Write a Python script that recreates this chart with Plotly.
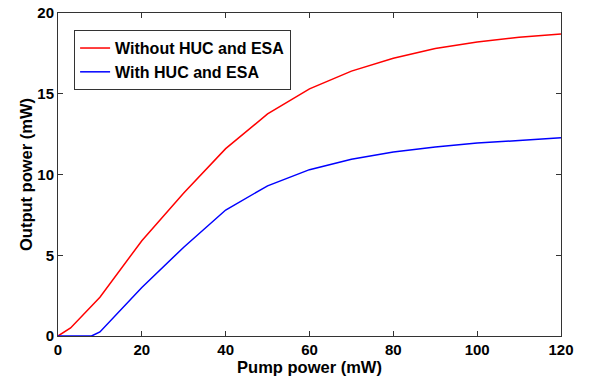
import plotly.graph_objects as go

pump_red = [0, 3, 10, 20, 30, 40, 50, 60, 70, 80, 90, 100, 110, 120]
out_red = [0, 0.5, 2.4, 5.9, 8.85, 11.6, 13.75, 15.3, 16.4, 17.2, 17.8, 18.2, 18.5, 18.7]
pump_blue = [0, 8, 10, 20, 30, 40, 50, 60, 70, 80, 90, 100, 110, 120]
out_blue = [0, 0, 0.25, 3.0, 5.5, 7.8, 9.3, 10.3, 10.95, 11.4, 11.7, 11.95, 12.1, 12.27]

x_ticks = [0, 20, 40, 60, 80, 100, 120]
y_ticks = [0, 5, 10, 15, 20]

FAM = "Liberation Sans, Arial, sans-serif"

fig = go.Figure()
fig.add_trace(go.Scatter(x=pump_red, y=out_red, mode="lines", name="Without HUC and ESA",
                         line=dict(color="#ff0000", width=1.5)))
fig.add_trace(go.Scatter(x=pump_blue, y=out_blue, mode="lines", name="With HUC and ESA",
                         line=dict(color="#0000ff", width=1.5)))

axis_common = dict(showgrid=False, zeroline=False, showline=True, linecolor="#333333", linewidth=1,
                   mirror="ticks", ticks="inside", ticklen=5, tickcolor="#333333", automargin=False,
                   tickfont=dict(family=FAM, size=15, color="black", weight="bold"))
fig.update_layout(
    width=594, height=378,
    margin=dict(l=58, r=33, t=13, b=42),
    paper_bgcolor="white", plot_bgcolor="white",
    font=dict(family=FAM, size=15, color="black"),
    xaxis=dict(range=[0, 120], tickvals=x_ticks, **axis_common,
               title=dict(text="<b>Pump power (mW)</b>", font=dict(size=16.5), standoff=1)),
    yaxis=dict(range=[0, 20], tickvals=y_ticks, **axis_common,
               title=dict(text="<b>Output power (mW)</b>", font=dict(size=16.5), standoff=0)),
    legend=dict(x=0.032, y=0.947, xanchor="left", yanchor="top",
                bordercolor="#333333", borderwidth=1, bgcolor="white",
                font=dict(size=16, weight="bold"), tracegroupgap=0,
                itemwidth=30),
    showlegend=True,
)
fig.write_html("out.html")
